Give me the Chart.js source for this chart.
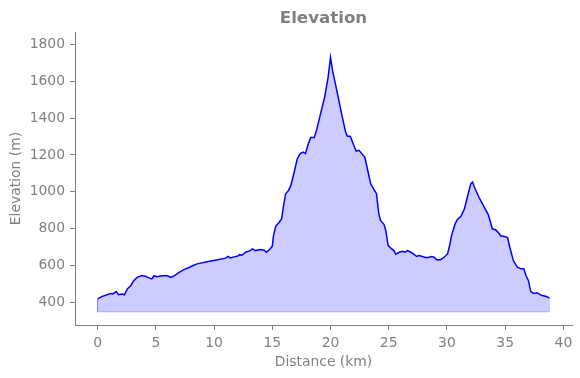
<!DOCTYPE html>
<html>
<head>
<meta charset="utf-8">
<script src="https://cdn.jsdelivr.net/npm/chart.js@4/dist/chart.umd.min.js"></script>
<style>
  html, body { margin: 0; padding: 0; background: #fff; }
  canvas { display: block; }
</style>
</head>
<body>
<canvas id="elevation-chart" width="580" height="378"></canvas>
<script>
// distance along the route (km) and elevation (m)
const distanceKm = [
  0.0, 0.4, 0.83, 1.1, 1.3, 1.6, 1.8, 2.1, 2.3, 2.55, 2.85, 3.1, 3.4, 3.8, 4.1,
  4.4, 4.65, 4.85, 5.1, 5.55, 6.0, 6.3, 6.6, 7.0, 7.4, 7.9, 8.2, 8.55, 9.4, 10.3,
  11.0, 11.2, 11.4, 11.7, 12.0, 12.2, 12.4, 12.7, 13.1, 13.3, 13.55, 14.0, 14.3,
  14.5, 14.8, 15.0, 15.1, 15.3, 15.6, 15.8, 15.95, 16.15, 16.4, 16.6, 16.85,
  17.15, 17.4, 17.65, 17.85, 18.05, 18.3, 18.6, 18.8, 19.15, 19.5, 19.8, 20.0,
  20.2, 20.6, 20.95, 21.3, 21.45, 21.7, 21.95, 22.2, 22.45, 22.65, 22.95, 23.2,
  23.45, 23.75, 23.95, 24.15, 24.3, 24.6, 24.75, 24.95, 25.15, 25.45, 25.6, 25.9,
  26.2, 26.4, 26.6, 26.9, 27.2, 27.4, 27.6, 27.9, 28.2, 28.45, 28.7, 28.9, 29.1,
  29.45, 29.75, 30.05, 30.2, 30.4, 30.7, 30.9, 31.2, 31.5, 31.75, 32.05, 32.2,
  32.4, 32.75, 33.2, 33.55, 33.9, 34.2, 34.5, 34.6, 34.9, 35.2, 35.4, 35.7, 36.05,
  36.35, 36.6, 36.8, 37.0, 37.2, 37.45, 37.75, 38.1, 38.55, 38.8
];
const elevationM = [
  420, 434, 443, 450, 447, 460, 443, 447, 443, 474, 492, 519, 537, 547, 543,
  534, 529, 546, 541, 546, 546, 537, 546, 564, 579, 592, 601, 610, 622, 633,
  641, 651, 642, 648, 651, 660, 657, 673, 682, 691, 682, 688, 684,
  673, 691, 705, 760, 815, 836, 854, 917, 990, 1008, 1035, 1098,
  1180, 1207, 1215, 1207, 1252, 1294, 1294, 1333, 1424, 1514, 1622, 1728,
  1650, 1532, 1424, 1324, 1301, 1301, 1261, 1221, 1225, 1210, 1188, 1116,
  1044, 1011, 990, 881, 845, 823, 791, 709, 697, 682, 662, 673,
  678, 673, 682, 673, 660, 650, 655, 650, 644, 646, 650, 646, 633,
  633, 646, 664, 700, 764, 827, 850, 868, 908, 971, 1044, 1053,
  1020, 971, 917, 877, 800, 794, 773, 762, 758, 754, 700, 628, 592,
  583, 583, 546, 519, 460, 450, 454, 440, 433, 425
];
const fillBase = 350;
const xTicks = [0, 5, 10, 15, 20, 25, 30, 35, 40];
const yTicks = [400, 600, 800, 1000, 1200, 1400, 1600, 1800];

const grey = "#808080";
const font = "DejaVu Sans";

const profile = distanceKm.map((d, i) => ({ x: d, y: elevationM[i] }));
const last = distanceKm.length - 1;
const fillEdge = [
  { x: distanceKm[0], y: elevationM[0] },
  { x: distanceKm[0], y: fillBase },
  { x: distanceKm[last], y: fillBase },
  { x: distanceKm[last], y: elevationM[last] },
];

const ctx = document.getElementById("elevation-chart").getContext("2d");
const config = {
  type: "line",
  data: {
    datasets: [
      {
        data: profile,
        borderColor: "#0000ff",
        backgroundColor: "rgba(0,0,255,0.2)",
        borderWidth: 1.5,
        pointRadius: 0,
        tension: 0,
        fill: { target: { value: fillBase } },
      },
      {
        data: fillEdge,
        borderColor: "rgba(0,0,255,0.2)",
        borderWidth: 1,
        pointRadius: 0,
        fill: false,
      },
    ],
  },
  options: {
    responsive: false,
    animation: false,
    layout: { padding: { top: 0, right: 8, bottom: 0, left: 0 } },
    plugins: {
      legend: { display: false },
      tooltip: { enabled: false },
      title: {
        display: true,
        text: "Elevation",
        color: grey,
        fullSize: false,
        font: { family: font, size: 16.67, weight: "bold" },
        padding: { top: 8.5, bottom: 3.5 },
      },
    },
    scales: {
      x: {
        type: "linear",
        min: -1.94,
        max: 40.74,
        afterBuildTicks: (scale) => {
          scale.ticks = xTicks.map((v) => ({ value: v }));
        },
        afterFit: (scale) => {
          scale.height = 53;
        },
        grid: { drawOnChartArea: false, drawTicks: true, tickLength: 5, color: grey },
        border: { display: true, color: grey, width: 1 },
        ticks: {
          color: grey,
          padding: 5,
          maxRotation: 0,
          font: { family: font, size: 13.9 },
          callback: (v) => String(v),
        },
        title: {
          display: true,
          text: "Distance (km)",
          color: grey,
          font: { family: font, size: 13.9 },
          padding: { top: 0, bottom: 7.5 },
        },
      },
      y: {
        min: 279,
        max: 1866,
        afterBuildTicks: (scale) => {
          scale.ticks = yTicks.map((v) => ({ value: v }));
        },
        afterFit: (scale) => {
          scale.width = 75;
        },
        grid: { drawOnChartArea: false, drawTicks: true, tickLength: 5, color: grey },
        border: { display: true, color: grey, width: 1 },
        ticks: {
          color: grey,
          padding: 5,
          font: { family: font, size: 13.9 },
          callback: (v) => String(v),
        },
        title: {
          display: true,
          text: "Elevation (m)",
          color: grey,
          font: { family: font, size: 13.9 },
          padding: { top: 8.5, bottom: 0 },
        },
      },
    },
  },
};
const chartRender = new Chart(ctx, config);
</script>
</body>
</html>
